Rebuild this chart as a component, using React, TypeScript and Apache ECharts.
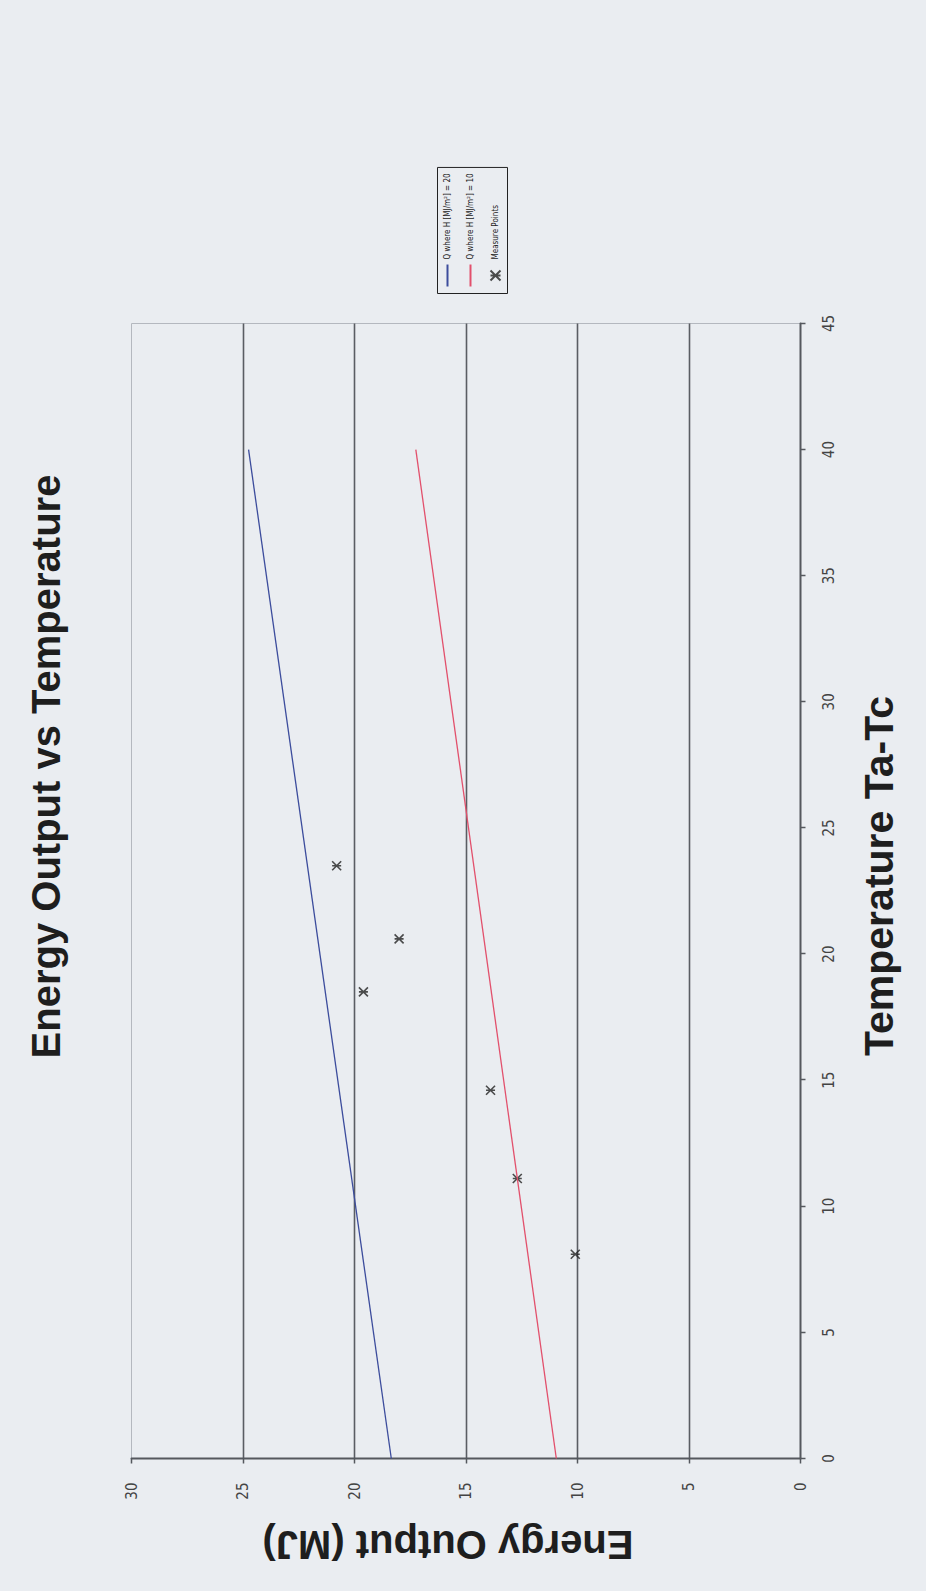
import React, { useEffect, useRef } from "react";
import * as echarts from "echarts";

// ---- data ----
const lineTemps = [0, 40];
const energyH20 = [18.35, 24.75];
const energyH10 = [10.95, 17.25];
const measureTemp = [8.1, 11.1, 14.6, 18.5, 20.6, 23.5];
const measureEnergy = [10.1, 12.7, 13.9, 19.6, 18.0, 20.8];

const seriesNames = [
  "Q where H [MJ/m\u00B2] = 20",
  "Q where H [MJ/m\u00B2] = 10",
  "Measure Points",
];
const titleText = "Energy Output vs Temperature";
const xName = "Temperature Ta-Tc";
const yName = "Energy Output (MJ)";
const tempMin = 0, tempMax = 45, tempStep = 5;
const energyMin = 0, energyMax = 30, energyStep = 5;

const W = 1591;
const H = 926;
const BG = "#eaedf1";
const FONT = "'Liberation Sans', Arial, sans-serif";
const NARROW = "'Liberation Sans Narrow', 'DejaVu Sans Condensed', 'Liberation Sans', sans-serif";

export default function App() {
  const ref = useRef<HTMLDivElement>(null);
  useEffect(() => {
    if (!ref.current) return;
    const chart = echarts.init(ref.current, undefined, { renderer: "svg", width: W, height: H });
    const pairs = (xs: number[], ys: number[]) => xs.map((x, i) => [x, ys[i]]);
    const hiddenSymbol = { color: "rgba(0,0,0,0)", borderWidth: 0, opacity: 0 };
    chart.setOption({
      animation: false,
      backgroundColor: BG,
      grid: {
        left: 133,
        right: 323,
        top: 131,
        bottom: 126,
        show: true,
        backgroundColor: BG,
        borderColor: "#b4b8bf",
        borderWidth: 1,
      },
      graphic: [
        {
          type: "text",
          x: 825,
          y: 45,
          style: {
            text: titleText,
            fontSize: 40,
            fontWeight: "bold",
            fontFamily: FONT,
            fill: "#1e1e1e",
            align: "center",
            verticalAlign: "middle",
          },
        },
      ],
      legend: {
        orient: "vertical",
        left: 1298,
        top: 437,
        itemWidth: 22,
        itemHeight: 10,
        itemGap: 15,
        padding: [6, 6, 6, 6],
        borderColor: "#222",
        borderWidth: 1,
        backgroundColor: BG,
        textStyle: { fontSize: 8, color: "#222", fontFamily: NARROW },
        data: [
          { name: seriesNames[0], itemStyle: hiddenSymbol },
          { name: seriesNames[1], itemStyle: hiddenSymbol },
          { name: seriesNames[2] },
        ],
      },
      xAxis: {
        type: "value",
        min: tempMin,
        max: tempMax,
        interval: tempStep,
        name: xName,
        nameLocation: "middle",
        nameGap: 58,
        nameTextStyle: {
          fontSize: 41,
          fontWeight: "bold",
          color: "#1e1e1e",
          fontFamily: FONT,
          padding: [0, 0, 0, 30],
        },
        axisLine: { show: true, lineStyle: { color: "#55585e", width: 2 } },
        axisTick: { show: true, length: 5, lineStyle: { color: "#55585e", width: 1.5 } },
        axisLabel: { fontSize: 15, color: "#444", margin: 21, fontFamily: NARROW },
        splitLine: { show: false },
      },
      yAxis: {
        type: "value",
        min: energyMin,
        max: energyMax,
        interval: energyStep,
        name: yName,
        nameLocation: "middle",
        nameGap: 66,
        nameRotate: 90,
        nameTextStyle: {
          fontSize: 40,
          fontWeight: "bold",
          color: "#1e1e1e",
          fontFamily: FONT,
          padding: [0, 0, 0, 36],
        },
        axisLine: { show: true, lineStyle: { color: "#55585e", width: 2 } },
        axisTick: { show: true, length: 5, lineStyle: { color: "#55585e", width: 1.5 } },
        axisLabel: { fontSize: 15, color: "#444", margin: 24, fontFamily: NARROW },
        splitLine: {
          show: true,
          showMinLine: false,
          showMaxLine: false,
          lineStyle: { color: "#5a5d63", width: 1.6 },
        },
      },
      series: [
        {
          name: seriesNames[0],
          type: "line",
          data: pairs(lineTemps, energyH20),
          symbol: "none",
          lineStyle: { color: "#3c4c9c", width: 1.3 },
          itemStyle: { color: "#3c4c9c" },
        },
        {
          name: seriesNames[1],
          type: "line",
          data: pairs(lineTemps, energyH10),
          symbol: "none",
          lineStyle: { color: "#e2506c", width: 1.3 },
          itemStyle: { color: "#e2506c" },
        },
        {
          name: seriesNames[2],
          type: "scatter",
          data: pairs(measureTemp, measureEnergy),
          symbol: "path://M0,0L10,10M10,0L0,10M5,0L5,10",
          symbolSize: 9,
          itemStyle: { color: "#222", borderColor: "#222", borderWidth: 1.6 },
        },
      ],
    });
    return () => chart.dispose();
  }, []);

  return (
    <div
      style={{
        position: "fixed",
        left: 0,
        top: 0,
        width: 926,
        height: 1591,
        overflow: "hidden",
        background: BG,
      }}
    >
      <div
        ref={ref}
        style={{
          position: "absolute",
          width: W,
          height: H,
          left: (926 - W) / 2,
          top: (1591 - H) / 2,
          transform: "rotate(-90deg)",
          transformOrigin: "50% 50%",
        }}
      />
    </div>
  );
}
